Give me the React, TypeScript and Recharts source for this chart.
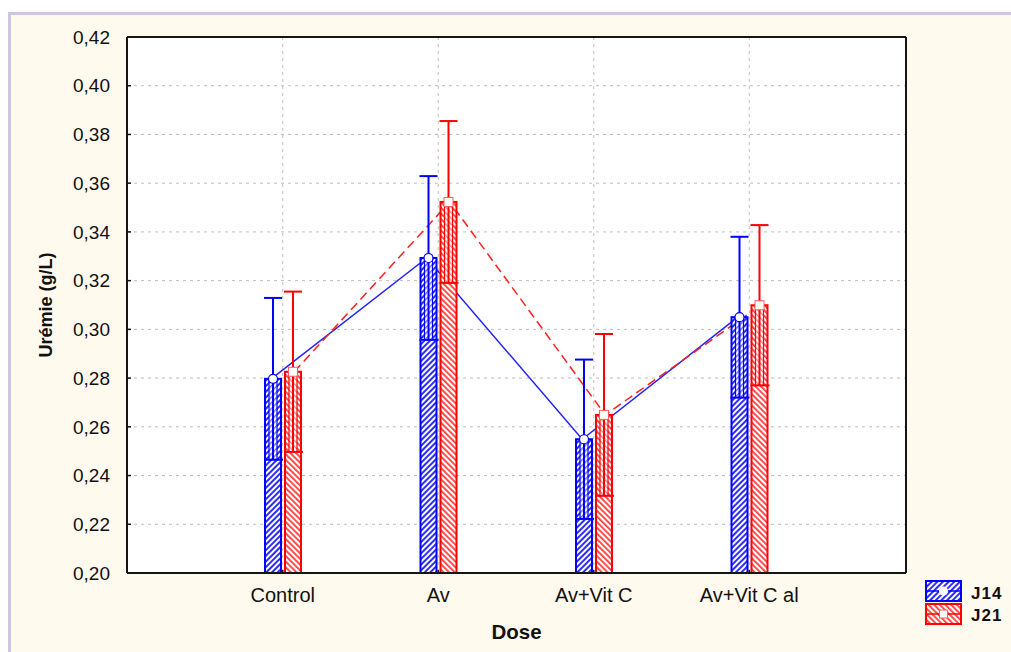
import React from "react";
import {
  Bar,
  CartesianGrid,
  ComposedChart,
  Legend,
  Line,
  XAxis,
  YAxis,
} from "recharts";

const doses = ["Control", "Av", "Av+Vit C", "Av+Vit C al"];
const j14Mean = [0.2797, 0.3293, 0.2549, 0.305];
const j21Mean = [0.2826, 0.3523, 0.2649, 0.3099];
const j14Err = [0.0332, 0.0336, 0.0327, 0.033];
const j21Err = [0.0329, 0.0332, 0.0332, 0.0329];
const yTicks = [0.2, 0.22, 0.24, 0.26, 0.28, 0.3, 0.32, 0.34, 0.36, 0.38, 0.4, 0.42];

const BLUE = "#0000ff";
const RED = "#ff0000";
const FONT = "'Liberation Sans', Arial, sans-serif";
const Y_MIN = 0.2;
const Y_MAX = 0.42;
// bar centre offset from the category centre, in category units
const BAR_SHIFT = 0.074;
const PAD = { left: 78, right: 79 };
const W = 1011;
const H = 652;
const FRAME = { stroke: "#151515", strokeWidth: 2 };

const rows = doses.map((dose, i) => ({
  dose,
  j14: j14Mean[i],
  j21: j21Mean[i],
  e14: j14Err[i],
  e21: j21Err[i],
  xb: i - BAR_SHIFT,
  xr: i + BAR_SHIFT,
}));

const fmt = (v: number) => v.toFixed(2).replace(".", ",");

function makeShape(meanKey: "j14" | "j21", errKey: "e14" | "e21", color: string, pat: string, lightPat: string, circle: boolean) {
  return (props: any) => {
    const { x, y, width, height, payload } = props;
    const mean = payload[meanKey];
    const err = payload[errKey];
    const ppu = height / (mean - Y_MIN);
    const eh = err * ppu;
    const cx = x + width / 2;
    return (
      <g>
        <rect x={x} y={y} width={width} height={height} fill={`url(#${pat})`} stroke={color} strokeWidth={2} />
        <rect
          x={x + width * 0.25}
          y={y}
          width={width * 0.5}
          height={eh}
          fill={`url(#${lightPat})`}
          stroke={color}
          strokeWidth={1.2}
        />
        <line x1={x - 1} x2={x + width + 2} y1={y + eh} y2={y + eh} stroke={color} strokeWidth={2} />
        <line x1={cx} x2={cx} y1={y + eh} y2={y - eh} stroke={color} strokeWidth={2} />
        <line x1={x - 1} x2={x + width + 1} y1={y - eh} y2={y - eh} stroke={color} strokeWidth={2} />
        {circle ? (
          <circle cx={cx} cy={y} r={4.5} fill="#fff" stroke={color} strokeWidth={1.2} />
        ) : (
          <rect x={cx - 4.5} y={y - 4.5} width={9} height={9} fill="#fff" stroke="#ff5a5a" strokeWidth={1} />
        )}
      </g>
    );
  };
}

const YTick = (props: any) => {
  const { x, y, payload } = props;
  return (
    <g>
      <line x1={x + 17} x2={x + 21} y1={y} y2={y} stroke="#111" strokeWidth={1.5} />
      <text x={x} y={y} dy="0.355em" textAnchor="end" fontFamily={FONT} fontSize={19} fill="#111">
        {fmt(payload.value)}
      </text>
    </g>
  );
};

const XTick = (props: any) => {
  const { x, y, payload } = props;
  return (
    <g>
      <line x1={x} x2={x} y1={y - 29} y2={y - 32} stroke="#111" strokeWidth={1.5} />
      <text x={x} y={y} textAnchor="middle" fontFamily={FONT} fontSize={20} fill="#111">
        {payload.value}
      </text>
    </g>
  );
};

function Patterns({ suffix = "" }: { suffix?: string }) {
  return (
    <defs>
      <pattern id={`hb${suffix}`} width="4" height="4" patternUnits="userSpaceOnUse" patternTransform="rotate(45)">
        <rect width="4" height="4" fill="#fff" />
        <rect width="2" height="4" fill="#2c2cff" />
      </pattern>
      <pattern id={`hbl${suffix}`} width="4" height="4" patternUnits="userSpaceOnUse" patternTransform="rotate(45)">
        <rect width="4" height="4" fill="#fff" />
        <rect width="1.5" height="4" fill="#6a6aff" />
      </pattern>
      <pattern id={`hr${suffix}`} width="4" height="4" patternUnits="userSpaceOnUse" patternTransform="rotate(-45)">
        <rect width="4" height="4" fill="#fff" />
        <rect width="1.8" height="4" fill="#ff3c3c" />
      </pattern>
      <pattern id={`hrl${suffix}`} width="4" height="4" patternUnits="userSpaceOnUse" patternTransform="rotate(-45)">
        <rect width="4" height="4" fill="#fff" />
        <rect width="1.4" height="4" fill="#ff7a7a" />
      </pattern>
    </defs>
  );
}

function LegendBox() {
  return (
    <svg width={91} height={52} style={{ display: "block" }}>
      <Patterns suffix="L" />
      <rect x={6} y={6} width={35} height={20} fill="url(#hbL)" stroke={BLUE} strokeWidth={2} />
      <line x1={6} x2={41} y1={16} y2={16} stroke={BLUE} strokeWidth={1.5} />
      <circle cx={23.5} cy={16} r={4.5} fill="#fff" />
      <text x={51} y={24} fontFamily={FONT} fontSize={17} fontWeight="bold" letterSpacing={1} fill="#111">
        J14
      </text>
      <rect x={6} y={29} width={35} height={20} fill="url(#hrL)" stroke={RED} strokeWidth={2} />
      <line x1={6} x2={41} y1={39} y2={39} stroke={RED} strokeWidth={1.5} />
      <rect x={19.5} y={35} width={8} height={8} fill="#fff" stroke="#ff5a5a" strokeWidth={1} />
      <text x={51} y={46} fontFamily={FONT} fontSize={17} fontWeight="bold" letterSpacing={1} fill="#111">
        J21
      </text>
    </svg>
  );
}

const layer: React.CSSProperties = { position: "absolute", left: 0, top: 0 };

export default function App() {
  return (
    <div style={{ position: "absolute", left: 0, top: 0, width: W, height: H, background: "#fff", overflow: "hidden" }}>
      <div
        style={{
          position: "absolute",
          left: 8,
          top: 12,
          width: 1020,
          height: 660,
          borderLeft: "3px solid #cdc5e3",
          borderTop: "3px solid #cdc5e3",
          background: "#fff9ee",
        }}
      />
      {/* back layer: grid, axes and the mean lines */}
      <div style={layer}>
        <ComposedChart width={W} height={H} data={rows} margin={{ top: 37, right: 105, bottom: 0, left: 0 }}>
          <CartesianGrid stroke="#bdbdbd" strokeDasharray="3 4" fill="#ffffff" fillOpacity={1} />
          <XAxis
            dataKey="dose"
            type="category"
            scale="band"
            padding={PAD}
            height={79}
            axisLine={false}
            tickLine={false}
            tickSize={0}
            tickMargin={29}
            tick={<XTick />}
            interval={0}
            label={{
              content: (p: any) => (
                <text
                  x={p.viewBox.x + p.viewBox.width / 2}
                  y={p.viewBox.y + 66}
                  textAnchor="middle"
                  fontFamily={FONT}
                  fontSize={20.5}
                  fontWeight="bold"
                  fill="#111"
                >
                  Dose
                </text>
              ),
            }}
          />
          <XAxis xAxisId="nb" type="number" dataKey="xb" domain={[-0.5, 3.5]} padding={PAD} hide />
          <XAxis xAxisId="nr" type="number" dataKey="xr" domain={[-0.5, 3.5]} padding={PAD} hide />
          <YAxis
            type="number"
            domain={[Y_MIN, Y_MAX]}
            ticks={yTicks}
            width={127}
            axisLine={false}
            tickLine={false}
            tickSize={0}
            tickMargin={17}
            tick={<YTick />}
            interval={0}
            label={{
              content: (p: any) => {
                const cy = p.viewBox.y + p.viewBox.height / 2;
                return (
                  <text
                    x={52}
                    y={cy}
                    transform={`rotate(-90, 52, ${cy})`}
                    textAnchor="middle"
                    fontFamily={FONT}
                    fontSize={18}
                    fontWeight="bold"
                    fill="#111"
                  >
                    Urémie (g/L)
                  </text>
                );
              },
            }}
          />
          <Line
            xAxisId="nb"
            type="linear"
            dataKey="j14"
            stroke="#2424ff"
            strokeWidth={1.5}
            dot={false}
            isAnimationActive={false}
          />
          <Line
            xAxisId="nr"
            type="linear"
            dataKey="j21"
            stroke="#ff2020"
            strokeWidth={1.5}
            strokeDasharray="9 5"
            dot={false}
            isAnimationActive={false}
          />
        </ComposedChart>
      </div>
      {/* front layer: bars with boxes and whiskers, plot frame, legend */}
      <div style={layer}>
        <ComposedChart width={W} height={H} data={rows} margin={{ top: 36, right: 104, bottom: 78, left: 126 }}>
          <Patterns />
          <XAxis dataKey="dose" type="category" padding={PAD} height={1} tick={false} tickLine={false} axisLine={FRAME} />
          <XAxis xAxisId="top" orientation="top" dataKey="dose" height={1} tick={false} tickLine={false} axisLine={FRAME} />
          <YAxis type="number" domain={[Y_MIN, Y_MAX]} ticks={yTicks} allowDataOverflow width={1} tick={false} tickLine={false} axisLine={FRAME} />
          <YAxis yAxisId="right" orientation="right" width={1} tick={false} tickLine={false} axisLine={FRAME} />
          <Bar
            dataKey="j14"
            barSize={16}
            shape={makeShape("j14", "e14", BLUE, "hb", "hbl", true)}
            isAnimationActive={false}
          />
          <Bar
            dataKey="j21"
            barSize={16}
            shape={makeShape("j21", "e21", RED, "hr", "hrl", false)}
            isAnimationActive={false}
          />
          <Legend
            layout="vertical"
            align="center"
            verticalAlign="middle"
            wrapperStyle={{ position: "absolute", left: 920, top: 575, width: 91, height: 52 }}
            content={() => <LegendBox />}
          />
        </ComposedChart>
      </div>
    </div>
  );
}
